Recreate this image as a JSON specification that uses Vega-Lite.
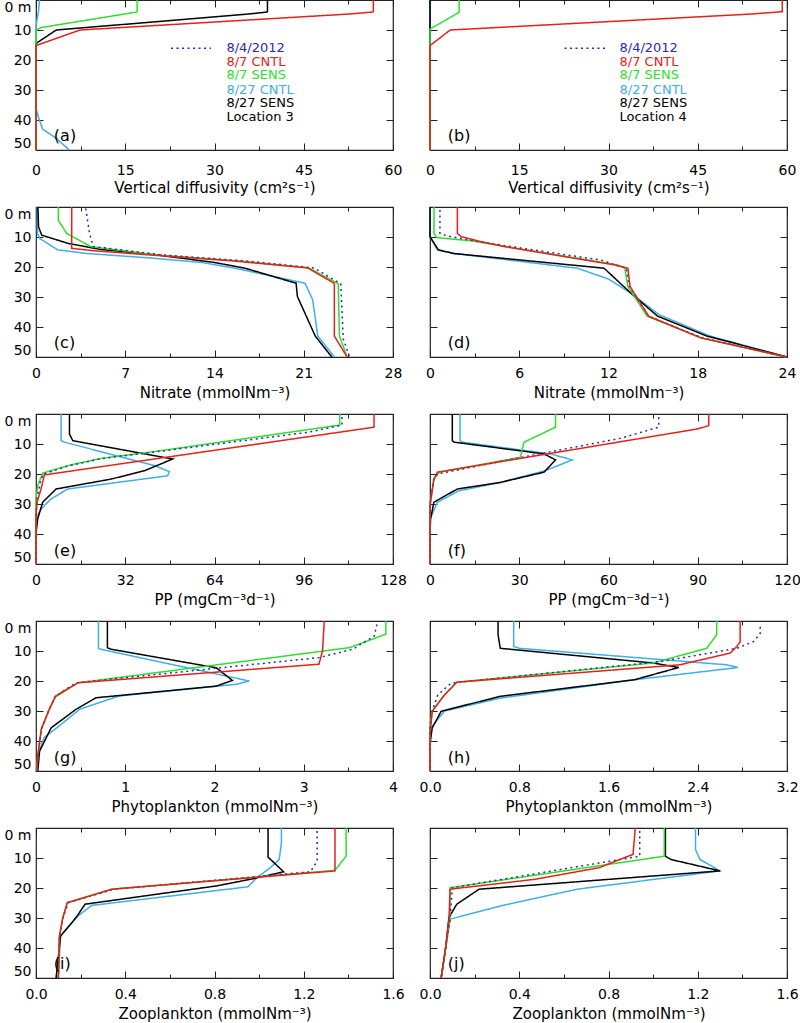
{
"$schema": "https://vega.github.io/schema/vega-lite/v6.json",
"padding": {"left": 3, "top": -4, "right": 0, "bottom": 0},
"columns": 2,
"spacing": {"row": 57, "column": 37},
"bounds": "flush",
"config": {
  "font": "DejaVu Sans",
  "view": {"stroke": "#222", "strokeWidth": 1.2},
  "axis": {"grid": false, "ticks": true, "tickSize": -7, "tickColor": "#222", "tickWidth": 1, "domain": false, "labelOverlap": false, "labelFont": "DejaVu Sans", "labelFontSize": 14, "labelColor": "#000", "titleFont": "DejaVu Sans", "titleFontSize": 15, "titleFontWeight": "normal", "titleColor": "#000", "labelPadding": 16, "titlePadding": 5},
  "axisX": {"labelFlush": false},
  "axisY": {"labelPadding": 12},
  "text": {"font": "DejaVu Sans"}
},
"datasets": {
"a": [
{"s":"8/27 CNTL","d":0,"v":0.6},{"s":"8/27 CNTL","d":4,"v":0.4},{"s":"8/27 CNTL","d":8,"v":0.05},{"s":"8/27 CNTL","d":10,"v":0},{"s":"8/27 CNTL","d":36,"v":0},{"s":"8/27 CNTL","d":39.7,"v":0.5},{"s":"8/27 CNTL","d":43,"v":1.1},{"s":"8/27 CNTL","d":46.1,"v":3.4},{"s":"8/27 CNTL","d":50,"v":5.6},
{"s":"8/27 SENS","d":0,"v":38.9},{"s":"8/27 SENS","d":4,"v":38.9},{"s":"8/27 SENS","d":4.7,"v":35.6},{"s":"8/27 SENS","d":10,"v":3.4},{"s":"8/27 SENS","d":14.5,"v":0},{"s":"8/27 SENS","d":50,"v":0},
{"s":"8/7 SENS","d":0,"v":17},{"s":"8/7 SENS","d":4,"v":17},{"s":"8/7 SENS","d":4.7,"v":14.8},{"s":"8/7 SENS","d":9.2,"v":0.8},{"s":"8/7 SENS","d":10.2,"v":0},{"s":"8/7 SENS","d":50,"v":0},
{"s":"8/7 CNTL","d":0,"v":56.7},{"s":"8/7 CNTL","d":4,"v":56.7},{"s":"8/7 CNTL","d":4.7,"v":52.4},{"s":"8/7 CNTL","d":10,"v":7.4},{"s":"8/7 CNTL","d":15.2,"v":0},{"s":"8/7 CNTL","d":50,"v":0}
],
"b": [
{"s":"8/27 CNTL","d":0,"v":0},{"s":"8/27 CNTL","d":50,"v":0},
{"s":"8/27 SENS","d":0,"v":0},{"s":"8/27 SENS","d":50,"v":0},
{"s":"8/7 SENS","d":0,"v":4.9},{"s":"8/7 SENS","d":4.1,"v":4.9},{"s":"8/7 SENS","d":9.7,"v":0},{"s":"8/7 SENS","d":50,"v":0},
{"s":"8/7 CNTL","d":0,"v":59.2},{"s":"8/7 CNTL","d":3.9,"v":59.2},{"s":"8/7 CNTL","d":4.7,"v":53.8},{"s":"8/7 CNTL","d":10,"v":3.4},{"s":"8/7 CNTL","d":15.2,"v":0},{"s":"8/7 CNTL","d":50,"v":0}
],
"c": [
{"s":"8/27 CNTL","d":0,"v":0.1},{"s":"8/27 CNTL","d":8.8,"v":0.12},{"s":"8/27 CNTL","d":10.5,"v":0.3},{"s":"8/27 CNTL","d":14.3,"v":1.7},{"s":"8/27 CNTL","d":15.5,"v":4},{"s":"8/27 CNTL","d":17,"v":9},{"s":"8/27 CNTL","d":18.5,"v":13},{"s":"8/27 CNTL","d":20.4,"v":15.6},{"s":"8/27 CNTL","d":25.4,"v":21.1},{"s":"8/27 CNTL","d":30.9,"v":21.7},{"s":"8/27 CNTL","d":43,"v":22.1},{"s":"8/27 CNTL","d":50,"v":23.4},
{"s":"8/27 SENS","d":0,"v":0.15},{"s":"8/27 SENS","d":6.6,"v":0.2},{"s":"8/27 SENS","d":9.4,"v":0.45},{"s":"8/27 SENS","d":12.1,"v":2.5},{"s":"8/27 SENS","d":14.1,"v":5},{"s":"8/27 SENS","d":16,"v":9.5},{"s":"8/27 SENS","d":18.5,"v":14},{"s":"8/27 SENS","d":20.4,"v":16.4},{"s":"8/27 SENS","d":25.4,"v":20.4},{"s":"8/27 SENS","d":29.8,"v":20.5},{"s":"8/27 SENS","d":43,"v":21.9},{"s":"8/27 SENS","d":50,"v":23.2},
{"s":"8/7 SENS","d":0,"v":1.75},{"s":"8/7 SENS","d":4.4,"v":1.75},{"s":"8/7 SENS","d":8.8,"v":2.4},{"s":"8/7 SENS","d":13.2,"v":4.3},{"s":"8/7 SENS","d":16,"v":9.5},{"s":"8/7 SENS","d":18,"v":16},{"s":"8/7 SENS","d":20.3,"v":21.4},{"s":"8/7 SENS","d":25.6,"v":23.7},{"s":"8/7 SENS","d":43,"v":23.8},{"s":"8/7 SENS","d":50,"v":24.4},
{"s":"8/4/2012","d":0.5,"v":3.9},{"s":"8/4/2012","d":8.8,"v":4.2},{"s":"8/4/2012","d":13.2,"v":4.5},{"s":"8/4/2012","d":16,"v":10},{"s":"8/4/2012","d":18,"v":16.5},{"s":"8/4/2012","d":20.3,"v":21.8},{"s":"8/4/2012","d":25.6,"v":23.9},{"s":"8/4/2012","d":44,"v":24.1},{"s":"8/4/2012","d":50,"v":24.6},
{"s":"8/7 CNTL","d":0,"v":2.8},{"s":"8/7 CNTL","d":13.8,"v":2.8},{"s":"8/7 CNTL","d":14.6,"v":4.6},{"s":"8/7 CNTL","d":16,"v":9},{"s":"8/7 CNTL","d":18,"v":15.5},{"s":"8/7 CNTL","d":20.3,"v":21.3},{"s":"8/7 CNTL","d":25.5,"v":23.4},{"s":"8/7 CNTL","d":43,"v":23.4},{"s":"8/7 CNTL","d":50,"v":24.4}
],
"d": [
{"s":"8/27 CNTL","d":0,"v":0},{"s":"8/27 CNTL","d":9.9,"v":0},{"s":"8/27 CNTL","d":14.3,"v":0.5},{"s":"8/27 CNTL","d":15.5,"v":1.6},{"s":"8/27 CNTL","d":20.4,"v":9.9},{"s":"8/27 CNTL","d":24,"v":12},{"s":"8/27 CNTL","d":28.7,"v":13.5},{"s":"8/27 CNTL","d":35.9,"v":15.4},{"s":"8/27 CNTL","d":43,"v":18.8},{"s":"8/27 CNTL","d":50,"v":24},
{"s":"8/27 SENS","d":0,"v":0},{"s":"8/27 SENS","d":9.9,"v":0},{"s":"8/27 SENS","d":14.3,"v":0.56},{"s":"8/27 SENS","d":15.5,"v":1.6},{"s":"8/27 SENS","d":20.4,"v":11.7},{"s":"8/27 SENS","d":28.7,"v":13.5},{"s":"8/27 SENS","d":36.4,"v":15.3},{"s":"8/27 SENS","d":43,"v":18.6},{"s":"8/27 SENS","d":50,"v":24},
{"s":"8/7 SENS","d":0,"v":0.27},{"s":"8/7 SENS","d":8.8,"v":0.27},{"s":"8/7 SENS","d":10.2,"v":0.45},{"s":"8/7 SENS","d":11.3,"v":2.8},{"s":"8/7 SENS","d":19.3,"v":12.6},{"s":"8/7 SENS","d":20.4,"v":13.1},{"s":"8/7 SENS","d":26.5,"v":13.3},{"s":"8/7 SENS","d":36.4,"v":14.6},{"s":"8/7 SENS","d":43.6,"v":18.2},{"s":"8/7 SENS","d":50,"v":23.9},
{"s":"8/4/2012","d":1,"v":0.67},{"s":"8/4/2012","d":8.8,"v":0.67},{"s":"8/4/2012","d":9.7,"v":1.2},{"s":"8/4/2012","d":11.5,"v":3.2},{"s":"8/4/2012","d":17.7,"v":11.5},{"s":"8/4/2012","d":19.9,"v":12.8},{"s":"8/4/2012","d":20.4,"v":13.2},{"s":"8/4/2012","d":26.5,"v":13.4},{"s":"8/4/2012","d":36.4,"v":14.7},{"s":"8/4/2012","d":43.6,"v":18.3},{"s":"8/4/2012","d":50,"v":24},
{"s":"8/7 CNTL","d":0,"v":1.84},{"s":"8/7 CNTL","d":8.8,"v":1.84},{"s":"8/7 CNTL","d":9.9,"v":2.1},{"s":"8/7 CNTL","d":11.3,"v":3.2},{"s":"8/7 CNTL","d":13.2,"v":5.0},{"s":"8/7 CNTL","d":19.3,"v":12.4},{"s":"8/7 CNTL","d":20.4,"v":13.3},{"s":"8/7 CNTL","d":26.5,"v":13.45},{"s":"8/7 CNTL","d":36.4,"v":14.7},{"s":"8/7 CNTL","d":43.6,"v":18.2},{"s":"8/7 CNTL","d":50,"v":24}
],
"e": [
{"s":"8/27 CNTL","d":0,"v":9},{"s":"8/27 CNTL","d":8.9,"v":9},{"s":"8/27 CNTL","d":9.4,"v":10.2},{"s":"8/27 CNTL","d":17.2,"v":42.5},{"s":"8/27 CNTL","d":19.2,"v":47.8},{"s":"8/27 CNTL","d":20.6,"v":47.2},{"s":"8/27 CNTL","d":25,"v":11.4},{"s":"8/27 CNTL","d":28.3,"v":5.4},{"s":"8/27 CNTL","d":31.7,"v":1.8},{"s":"8/27 CNTL","d":35,"v":0},{"s":"8/27 CNTL","d":50,"v":0},
{"s":"8/27 SENS","d":0,"v":12},{"s":"8/27 SENS","d":6.7,"v":12},{"s":"8/27 SENS","d":8.9,"v":13.2},{"s":"8/27 SENS","d":15,"v":49},{"s":"8/27 SENS","d":18.9,"v":38.9},{"s":"8/27 SENS","d":21.7,"v":26.9},{"s":"8/27 SENS","d":25,"v":7.2},{"s":"8/27 SENS","d":29.4,"v":2.4},{"s":"8/27 SENS","d":35,"v":0.6},{"s":"8/27 SENS","d":40,"v":0},{"s":"8/27 SENS","d":50,"v":0},
{"s":"8/7 SENS","d":0,"v":108.9},{"s":"8/7 SENS","d":3.7,"v":108.9},{"s":"8/7 SENS","d":12.6,"v":41.9},{"s":"8/7 SENS","d":14.8,"v":23.3},{"s":"8/7 SENS","d":17.2,"v":11.4},{"s":"8/7 SENS","d":19.7,"v":2.4},{"s":"8/7 SENS","d":23.9,"v":0.6},{"s":"8/7 SENS","d":28.3,"v":0},{"s":"8/7 SENS","d":50,"v":0},
{"s":"8/4/2012","d":1,"v":109.7},{"s":"8/4/2012","d":3.7,"v":109.7},{"s":"8/4/2012","d":6.1,"v":97.5},{"s":"8/4/2012","d":12.6,"v":43},{"s":"8/4/2012","d":14.8,"v":24},{"s":"8/4/2012","d":17.2,"v":12},{"s":"8/4/2012","d":20,"v":2.6},{"s":"8/4/2012","d":22.8,"v":1.5},{"s":"8/4/2012","d":28,"v":0.4},{"s":"8/4/2012","d":33,"v":0},{"s":"8/4/2012","d":50,"v":0},
{"s":"8/7 CNTL","d":0,"v":121.2},{"s":"8/7 CNTL","d":4.4,"v":121.2},{"s":"8/7 CNTL","d":20.3,"v":3},{"s":"8/7 CNTL","d":25,"v":1.8},{"s":"8/7 CNTL","d":29.4,"v":0.4},{"s":"8/7 CNTL","d":34,"v":0},{"s":"8/7 CNTL","d":50,"v":0}
],
"f": [
{"s":"8/27 CNTL","d":0,"v":10.1},{"s":"8/27 CNTL","d":8.9,"v":10.1},{"s":"8/27 CNTL","d":9.4,"v":10.9},{"s":"8/27 CNTL","d":13.3,"v":40.5},{"s":"8/27 CNTL","d":15.3,"v":47.8},{"s":"8/27 CNTL","d":18.9,"v":38.8},{"s":"8/27 CNTL","d":22.8,"v":23.7},{"s":"8/27 CNTL","d":25.6,"v":9.7},{"s":"8/27 CNTL","d":29.4,"v":2.5},{"s":"8/27 CNTL","d":35,"v":0},{"s":"8/27 CNTL","d":50,"v":0},
{"s":"8/27 SENS","d":0,"v":7.5},{"s":"8/27 SENS","d":8.9,"v":7.5},{"s":"8/27 SENS","d":9.4,"v":8.1},{"s":"8/27 SENS","d":13.3,"v":38.3},{"s":"8/27 SENS","d":15.3,"v":42.2},{"s":"8/27 SENS","d":19.4,"v":38.3},{"s":"8/27 SENS","d":22.8,"v":23.7},{"s":"8/27 SENS","d":25,"v":9.2},{"s":"8/27 SENS","d":29.4,"v":1.3},{"s":"8/27 SENS","d":35,"v":0.2},{"s":"8/27 SENS","d":40,"v":0},{"s":"8/27 SENS","d":50,"v":0},
{"s":"8/7 SENS","d":0,"v":42.2},{"s":"8/7 SENS","d":4.4,"v":42.2},{"s":"8/7 SENS","d":9.4,"v":31.6},{"s":"8/7 SENS","d":14.4,"v":30.4},{"s":"8/7 SENS","d":19.4,"v":3.2},{"s":"8/7 SENS","d":21.7,"v":1.3},{"s":"8/7 SENS","d":30,"v":0},{"s":"8/7 SENS","d":50,"v":0},
{"s":"8/4/2012","d":1.1,"v":76.9},{"s":"8/4/2012","d":4.4,"v":76.9},{"s":"8/4/2012","d":8.1,"v":64},{"s":"8/4/2012","d":14.4,"v":31},{"s":"8/4/2012","d":20,"v":2.5},{"s":"8/4/2012","d":22,"v":1.2},{"s":"8/4/2012","d":30,"v":0},{"s":"8/4/2012","d":50,"v":0},
{"s":"8/7 CNTL","d":0,"v":93.7},{"s":"8/7 CNTL","d":3.9,"v":93.7},{"s":"8/7 CNTL","d":5,"v":89.8},{"s":"8/7 CNTL","d":19.4,"v":2.5},{"s":"8/7 CNTL","d":21.7,"v":1.3},{"s":"8/7 CNTL","d":30.6,"v":0},{"s":"8/7 CNTL","d":50,"v":0}
],
"g": [
{"s":"8/27 CNTL","d":0,"v":0.7},{"s":"8/27 CNTL","d":9.1,"v":0.7},{"s":"8/27 CNTL","d":9.4,"v":0.72},{"s":"8/27 CNTL","d":20,"v":2.39},{"s":"8/27 CNTL","d":21.1,"v":2.24},{"s":"8/27 CNTL","d":25,"v":0.93},{"s":"8/27 CNTL","d":29.4,"v":0.49},{"s":"8/27 CNTL","d":34.5,"v":0.28},{"s":"8/27 CNTL","d":38.9,"v":0.09},{"s":"8/27 CNTL","d":44,"v":0.03},{"s":"8/27 CNTL","d":50,"v":0},
{"s":"8/27 SENS","d":0,"v":0.8},{"s":"8/27 SENS","d":8.9,"v":0.8},{"s":"8/27 SENS","d":9.4,"v":0.84},{"s":"8/27 SENS","d":15.6,"v":2.02},{"s":"8/27 SENS","d":19.8,"v":2.2},{"s":"8/27 SENS","d":21.7,"v":2.02},{"s":"8/27 SENS","d":25.6,"v":0.67},{"s":"8/27 SENS","d":29.4,"v":0.45},{"s":"8/27 SENS","d":35.6,"v":0.17},{"s":"8/27 SENS","d":43.4,"v":0.04},{"s":"8/27 SENS","d":50,"v":0.02},
{"s":"8/7 SENS","d":0,"v":3.92},{"s":"8/7 SENS","d":4.4,"v":3.92},{"s":"8/7 SENS","d":8.9,"v":3.51},{"s":"8/7 SENS","d":20.6,"v":0.47},{"s":"8/7 SENS","d":25.5,"v":0.21},{"s":"8/7 SENS","d":30,"v":0.14},{"s":"8/7 SENS","d":36,"v":0.06},{"s":"8/7 SENS","d":45,"v":0.02},{"s":"8/7 SENS","d":50,"v":0.01},
{"s":"8/4/2012","d":1.1,"v":3.82},{"s":"8/4/2012","d":5,"v":3.79},{"s":"8/4/2012","d":9.4,"v":3.55},{"s":"8/4/2012","d":12.2,"v":3.17},{"s":"8/4/2012","d":20.6,"v":0.45},{"s":"8/4/2012","d":25,"v":0.22},{"s":"8/4/2012","d":30,"v":0.14},{"s":"8/4/2012","d":36,"v":0.06},{"s":"8/4/2012","d":45,"v":0.02},{"s":"8/4/2012","d":50,"v":0.01},
{"s":"8/7 CNTL","d":0,"v":3.23},{"s":"8/7 CNTL","d":10,"v":3.21},{"s":"8/7 CNTL","d":14.4,"v":3.17},{"s":"8/7 CNTL","d":20.6,"v":0.47},{"s":"8/7 CNTL","d":25,"v":0.22},{"s":"8/7 CNTL","d":29.4,"v":0.15},{"s":"8/7 CNTL","d":36,"v":0.06},{"s":"8/7 CNTL","d":45,"v":0.02},{"s":"8/7 CNTL","d":50,"v":0.01}
],
"h": [
{"s":"8/27 CNTL","d":0,"v":0.75},{"s":"8/27 CNTL","d":8.5,"v":0.75},{"s":"8/27 CNTL","d":9.1,"v":0.8},{"s":"8/27 CNTL","d":14.6,"v":2.66},{"s":"8/27 CNTL","d":15.5,"v":2.76},{"s":"8/27 CNTL","d":19.6,"v":1.83},{"s":"8/27 CNTL","d":25.7,"v":0.63},{"s":"8/27 CNTL","d":30,"v":0.13},{"s":"8/27 CNTL","d":36,"v":0},{"s":"8/27 CNTL","d":50,"v":0},
{"s":"8/27 SENS","d":0,"v":0.61},{"s":"8/27 SENS","d":4.6,"v":0.61},{"s":"8/27 SENS","d":9.1,"v":0.63},{"s":"8/27 SENS","d":14,"v":2.0},{"s":"8/27 SENS","d":15.5,"v":2.23},{"s":"8/27 SENS","d":19.6,"v":1.83},{"s":"8/27 SENS","d":25.1,"v":0.63},{"s":"8/27 SENS","d":30.1,"v":0.1},{"s":"8/27 SENS","d":35.6,"v":0.02},{"s":"8/27 SENS","d":41,"v":0},{"s":"8/27 SENS","d":50,"v":0},
{"s":"8/7 SENS","d":0,"v":2.57},{"s":"8/7 SENS","d":4.6,"v":2.57},{"s":"8/7 SENS","d":9.1,"v":2.48},{"s":"8/7 SENS","d":14,"v":2.0},{"s":"8/7 SENS","d":20.4,"v":0.24},{"s":"8/7 SENS","d":25.1,"v":0.12},{"s":"8/7 SENS","d":30.1,"v":0.02},{"s":"8/7 SENS","d":35,"v":0},{"s":"8/7 SENS","d":50,"v":0},
{"s":"8/4/2012","d":1.9,"v":2.96},{"s":"8/4/2012","d":4.1,"v":2.96},{"s":"8/4/2012","d":6.9,"v":2.9},{"s":"8/4/2012","d":9.1,"v":2.75},{"s":"8/4/2012","d":13.5,"v":2.07},{"s":"8/4/2012","d":20.7,"v":0.19},{"s":"8/4/2012","d":24.6,"v":0.07},{"s":"8/4/2012","d":30.1,"v":0.02},{"s":"8/4/2012","d":35,"v":0},{"s":"8/4/2012","d":50,"v":0},
{"s":"8/7 CNTL","d":0,"v":2.78},{"s":"8/7 CNTL","d":6.9,"v":2.78},{"s":"8/7 CNTL","d":8.5,"v":2.75},{"s":"8/7 CNTL","d":10.7,"v":2.69},{"s":"8/7 CNTL","d":14.6,"v":2.24},{"s":"8/7 CNTL","d":20.4,"v":0.24},{"s":"8/7 CNTL","d":24.6,"v":0.13},{"s":"8/7 CNTL","d":30.1,"v":0.02},{"s":"8/7 CNTL","d":38,"v":0},{"s":"8/7 CNTL","d":50,"v":0}
],
"i": [
{"s":"8/27 CNTL","d":0,"v":1.1},{"s":"8/27 CNTL","d":5,"v":1.1},{"s":"8/27 CNTL","d":10.5,"v":1.09},{"s":"8/27 CNTL","d":13.2,"v":1.05},{"s":"8/27 CNTL","d":16.6,"v":0.99},{"s":"8/27 CNTL","d":19.6,"v":0.95},{"s":"8/27 CNTL","d":25.8,"v":0.25},{"s":"8/27 CNTL","d":29.2,"v":0.19},{"s":"8/27 CNTL","d":36,"v":0.11},{"s":"8/27 CNTL","d":50,"v":0.1},
{"s":"8/27 SENS","d":0,"v":1.04},{"s":"8/27 SENS","d":9.7,"v":1.04},{"s":"8/27 SENS","d":14.6,"v":1.11},{"s":"8/27 SENS","d":17.1,"v":0.96},{"s":"8/27 SENS","d":19.3,"v":0.81},{"s":"8/27 SENS","d":25.4,"v":0.22},{"s":"8/27 SENS","d":29.8,"v":0.18},{"s":"8/27 SENS","d":36,"v":0.11},{"s":"8/27 SENS","d":50,"v":0.09},
{"s":"8/7 SENS","d":0,"v":1.39},{"s":"8/7 SENS","d":9.4,"v":1.39},{"s":"8/7 SENS","d":14.1,"v":1.34},{"s":"8/7 SENS","d":20.4,"v":0.34},{"s":"8/7 SENS","d":24.9,"v":0.14},{"s":"8/7 SENS","d":30,"v":0.12},{"s":"8/7 SENS","d":36,"v":0.105},{"s":"8/7 SENS","d":50,"v":0.1},
{"s":"8/4/2012","d":1,"v":1.26},{"s":"8/4/2012","d":11,"v":1.26},{"s":"8/4/2012","d":14.6,"v":1.23},{"s":"8/4/2012","d":20.4,"v":0.35},{"s":"8/4/2012","d":24.9,"v":0.145},{"s":"8/4/2012","d":30,"v":0.12},{"s":"8/4/2012","d":36,"v":0.105},{"s":"8/4/2012","d":50,"v":0.1},
{"s":"8/7 CNTL","d":0,"v":1.34},{"s":"8/7 CNTL","d":14.3,"v":1.34},{"s":"8/7 CNTL","d":20.4,"v":0.34},{"s":"8/7 CNTL","d":24.9,"v":0.14},{"s":"8/7 CNTL","d":30,"v":0.12},{"s":"8/7 CNTL","d":36,"v":0.105},{"s":"8/7 CNTL","d":50,"v":0.1}
],
"j": [
{"s":"8/27 CNTL","d":0,"v":1.19},{"s":"8/27 CNTL","d":7.2,"v":1.19},{"s":"8/27 CNTL","d":10.5,"v":1.21},{"s":"8/27 CNTL","d":14.3,"v":1.3},{"s":"8/27 CNTL","d":20.4,"v":0.66},{"s":"8/27 CNTL","d":25.9,"v":0.32},{"s":"8/27 CNTL","d":30.4,"v":0.09},{"s":"8/27 CNTL","d":40,"v":0.07},{"s":"8/27 CNTL","d":50,"v":0.05},
{"s":"8/27 SENS","d":0,"v":1.055},{"s":"8/27 SENS","d":9.4,"v":1.055},{"s":"8/27 SENS","d":10.5,"v":1.08},{"s":"8/27 SENS","d":14.3,"v":1.3},{"s":"8/27 SENS","d":20.4,"v":0.22},{"s":"8/27 SENS","d":25.4,"v":0.12},{"s":"8/27 SENS","d":29.8,"v":0.085},{"s":"8/27 SENS","d":40,"v":0.07},{"s":"8/27 SENS","d":50,"v":0.05},
{"s":"8/7 SENS","d":0,"v":1.05},{"s":"8/7 SENS","d":9.4,"v":1.05},{"s":"8/7 SENS","d":19.9,"v":0.09},{"s":"8/7 SENS","d":30.4,"v":0.09},{"s":"8/7 SENS","d":40,"v":0.07},{"s":"8/7 SENS","d":50,"v":0.05},
{"s":"8/4/2012","d":1,"v":0.94},{"s":"8/4/2012","d":9.4,"v":0.94},{"s":"8/4/2012","d":19.9,"v":0.1},{"s":"8/4/2012","d":30.4,"v":0.09},{"s":"8/4/2012","d":40,"v":0.07},{"s":"8/4/2012","d":50,"v":0.05},
{"s":"8/7 CNTL","d":0,"v":0.92},{"s":"8/7 CNTL","d":8.8,"v":0.91},{"s":"8/7 CNTL","d":10.5,"v":0.85},{"s":"8/7 CNTL","d":13.2,"v":0.76},{"s":"8/7 CNTL","d":17.1,"v":0.47},{"s":"8/7 CNTL","d":20.4,"v":0.09},{"s":"8/7 CNTL","d":30.4,"v":0.085},{"s":"8/7 CNTL","d":40,"v":0.07},{"s":"8/7 CNTL","d":50,"v":0.05}
]
},
"concat": [
{"width":357,"height":150,"data":{"name":"a"},"resolve":{"axis":{"x":"independent","y":"independent"}},
 "layer":[
  {"layer":[
   {"mark":{"type":"line","strokeWidth":1.5},"encoding":{
     "x":{"field":"v","type":"quantitative","scale":{"domain":[0,60],"nice":false,"zero":false},"axis":{"orient":"bottom","values":[0,15,30,45,60],"title":"Vertical diffusivity (cm²s⁻¹)","labelPadding":20,"titlePadding":3}},
     "y":{"field":"d","type":"quantitative","scale":{"domain":[0,50],"reverse":true,"nice":false,"zero":false},"axis":{"orient":"left","values":[10,20,30,40],"title":null}},
     "color":{"field":"s","type":"nominal","scale":{"domain":["8/4/2012","8/7 CNTL","8/7 SENS","8/27 CNTL","8/27 SENS"],"range":["#2a2ab8","#e8201a","#2ee02e","#40aee8","#000000"]},"legend":null},
     "strokeDash":{"field":"s","type":"nominal","scale":{"domain":["8/4/2012","8/7 CNTL","8/7 SENS","8/27 CNTL","8/27 SENS"],"range":[[2,3.5],[1,0],[1,0],[1,0],[1,0]]},"legend":null},
     "order":{"field":"d","type":"quantitative"}}},
   {"data":{"values":[{}]},"mark":{"type":"rule","strokeDash":[2,3.5],"strokeWidth":1.5,"color":"#2a2ab8"},"encoding":{"x":{"datum":22.7},"x2":{"datum":29.4},"y":{"datum":16.1}}},
   {"data":{"values":[{}]},"mark":{"type":"text","text":"8/4/2012","align":"left","baseline":"middle","fontSize":13,"color":"#2a2ab8"},"encoding":{"x":{"datum":32},"y":{"datum":16.1}}},
   {"data":{"values":[{}]},"mark":{"type":"text","text":"8/7 CNTL","align":"left","baseline":"middle","fontSize":13,"color":"#e8201a"},"encoding":{"x":{"datum":32},"y":{"datum":20.5}}},
   {"data":{"values":[{}]},"mark":{"type":"text","text":"8/7 SENS","align":"left","baseline":"middle","fontSize":13,"color":"#2ee02e"},"encoding":{"x":{"datum":32},"y":{"datum":25.0}}},
   {"data":{"values":[{}]},"mark":{"type":"text","text":"8/27 CNTL","align":"left","baseline":"middle","fontSize":13,"color":"#40aee8"},"encoding":{"x":{"datum":32},"y":{"datum":29.9}}},
   {"data":{"values":[{}]},"mark":{"type":"text","text":"8/27 SENS","align":"left","baseline":"middle","fontSize":13,"color":"#000000"},"encoding":{"x":{"datum":32},"y":{"datum":34.4}}},
   {"data":{"values":[{}]},"mark":{"type":"text","text":"Location 3","align":"left","baseline":"middle","fontSize":13,"color":"#000000"},"encoding":{"x":{"datum":32},"y":{"datum":39.1}}},
   {"data":{"values":[{}]},"mark":{"type":"text","text":"(a)","align":"left","baseline":"middle","fontSize":16,"color":"#000000"},"encoding":{"x":{"datum":3},"y":{"datum":45.2}}}
  ]},
  {"mark":{"type":"line","opacity":0},"encoding":{
    "x":{"field":"v","type":"quantitative","axis":{"orient":"bottom","values":[7.5,22.5,37.5,52.5],"labels":false,"title":null,"tickSize":-4}},
    "y":{"field":"d","type":"quantitative","axis":{"orient":"left","values":[0,50],"labelExpr":"datum.value == 0 ? '0 m' : datum.label","labelFlush":true,"ticks":false,"labelPadding":5,"title":null}}}},
  {"mark":{"type":"line","opacity":0},"encoding":{
    "x":{"field":"v","type":"quantitative","axis":{"orient":"top","values":[0,15,30,45,60],"labels":false,"title":null}},
    "y":{"field":"d","type":"quantitative","axis":{"orient":"right","values":[10,20,30,40],"labels":false,"title":null}}}},
  {"mark":{"type":"line","opacity":0},"encoding":{
    "x":{"field":"v","type":"quantitative","axis":{"orient":"top","values":[7.5,22.5,37.5,52.5],"labels":false,"title":null,"tickSize":-4}},
    "y":{"field":"d","type":"quantitative","axis":null}}}
 ]},
{"width":357,"height":150,"data":{"name":"b"},"resolve":{"axis":{"x":"independent","y":"independent"}},
 "layer":[
  {"layer":[
   {"mark":{"type":"line","strokeWidth":1.5},"encoding":{
     "x":{"field":"v","type":"quantitative","scale":{"domain":[0,60],"nice":false,"zero":false},"axis":{"orient":"bottom","values":[0,15,30,45,60],"title":"Vertical diffusivity (cm²s⁻¹)","labelPadding":20,"titlePadding":3}},
     "y":{"field":"d","type":"quantitative","scale":{"domain":[0,50],"reverse":true,"nice":false,"zero":false},"axis":{"orient":"left","values":[10,20,30,40],"labels":false,"title":null}},
     "color":{"field":"s","type":"nominal","scale":{"domain":["8/4/2012","8/7 CNTL","8/7 SENS","8/27 CNTL","8/27 SENS"],"range":["#2a2ab8","#e8201a","#2ee02e","#40aee8","#000000"]},"legend":null},
     "strokeDash":{"field":"s","type":"nominal","scale":{"domain":["8/4/2012","8/7 CNTL","8/7 SENS","8/27 CNTL","8/27 SENS"],"range":[[2,3.5],[1,0],[1,0],[1,0],[1,0]]},"legend":null},
     "order":{"field":"d","type":"quantitative"}}},
   {"data":{"values":[{}]},"mark":{"type":"rule","strokeDash":[2,3.5],"strokeWidth":1.5,"color":"#2a2ab8"},"encoding":{"x":{"datum":22.6},"x2":{"datum":29.5},"y":{"datum":16.1}}},
   {"data":{"values":[{}]},"mark":{"type":"text","text":"8/4/2012","align":"left","baseline":"middle","fontSize":13,"color":"#2a2ab8"},"encoding":{"x":{"datum":31.85},"y":{"datum":16.1}}},
   {"data":{"values":[{}]},"mark":{"type":"text","text":"8/7 CNTL","align":"left","baseline":"middle","fontSize":13,"color":"#e8201a"},"encoding":{"x":{"datum":31.85},"y":{"datum":20.5}}},
   {"data":{"values":[{}]},"mark":{"type":"text","text":"8/7 SENS","align":"left","baseline":"middle","fontSize":13,"color":"#2ee02e"},"encoding":{"x":{"datum":31.85},"y":{"datum":25.0}}},
   {"data":{"values":[{}]},"mark":{"type":"text","text":"8/27 CNTL","align":"left","baseline":"middle","fontSize":13,"color":"#40aee8"},"encoding":{"x":{"datum":31.85},"y":{"datum":29.9}}},
   {"data":{"values":[{}]},"mark":{"type":"text","text":"8/27 SENS","align":"left","baseline":"middle","fontSize":13,"color":"#000000"},"encoding":{"x":{"datum":31.85},"y":{"datum":34.4}}},
   {"data":{"values":[{}]},"mark":{"type":"text","text":"Location 4","align":"left","baseline":"middle","fontSize":13,"color":"#000000"},"encoding":{"x":{"datum":31.85},"y":{"datum":39.1}}},
   {"data":{"values":[{}]},"mark":{"type":"text","text":"(b)","align":"left","baseline":"middle","fontSize":16,"color":"#000000"},"encoding":{"x":{"datum":3},"y":{"datum":45.2}}}
  ]},
  {"mark":{"type":"line","opacity":0},"encoding":{
    "x":{"field":"v","type":"quantitative","axis":{"orient":"bottom","values":[7.5,22.5,37.5,52.5],"labels":false,"title":null,"tickSize":-4}},
    "y":{"field":"d","type":"quantitative","axis":null}}},
  {"mark":{"type":"line","opacity":0},"encoding":{
    "x":{"field":"v","type":"quantitative","axis":{"orient":"top","values":[0,15,30,45,60],"labels":false,"title":null}},
    "y":{"field":"d","type":"quantitative","axis":{"orient":"right","values":[10,20,30,40],"labels":false,"title":null}}}},
  {"mark":{"type":"line","opacity":0},"encoding":{
    "x":{"field":"v","type":"quantitative","axis":{"orient":"top","values":[7.5,22.5,37.5,52.5],"labels":false,"title":null,"tickSize":-4}},
    "y":{"field":"d","type":"quantitative","axis":null}}}
 ]},
{"width":357,"height":150,"data":{"name":"c"},"resolve":{"axis":{"x":"independent","y":"independent"}},
 "layer":[
  {"layer":[
   {"mark":{"type":"line","strokeWidth":1.5},"encoding":{
     "x":{"field":"v","type":"quantitative","scale":{"domain":[0,28],"nice":false,"zero":false},"axis":{"orient":"bottom","values":[0,7,14,21,28],"title":"Nitrate (mmolNm⁻³)"}},
     "y":{"field":"d","type":"quantitative","scale":{"domain":[0,50],"reverse":true,"nice":false,"zero":false},"axis":{"orient":"left","values":[10,20,30,40],"title":null}},
     "color":{"field":"s","type":"nominal","scale":{"domain":["8/4/2012","8/7 CNTL","8/7 SENS","8/27 CNTL","8/27 SENS"],"range":["#2a2ab8","#e8201a","#2ee02e","#40aee8","#000000"]},"legend":null},
     "strokeDash":{"field":"s","type":"nominal","scale":{"domain":["8/4/2012","8/7 CNTL","8/7 SENS","8/27 CNTL","8/27 SENS"],"range":[[2,3.5],[1,0],[1,0],[1,0],[1,0]]},"legend":null},
     "order":{"field":"d","type":"quantitative"}}},
   {"data":{"values":[{}]},"mark":{"type":"text","text":"(c)","align":"left","baseline":"middle","fontSize":16,"color":"#000000"},"encoding":{"x":{"datum":1.4},"y":{"datum":45.4}}}
  ]},
  {"mark":{"type":"line","opacity":0},"encoding":{
    "x":{"field":"v","type":"quantitative","axis":{"orient":"bottom","values":[3.5,10.5,17.5,24.5],"labels":false,"title":null,"tickSize":-4}},
    "y":{"field":"d","type":"quantitative","axis":{"orient":"left","values":[0,50],"labelExpr":"datum.value == 0 ? '0 m' : datum.label","labelFlush":true,"ticks":false,"labelPadding":5,"title":null}}}},
  {"mark":{"type":"line","opacity":0},"encoding":{
    "x":{"field":"v","type":"quantitative","axis":{"orient":"top","values":[0,7,14,21,28],"labels":false,"title":null}},
    "y":{"field":"d","type":"quantitative","axis":{"orient":"right","values":[10,20,30,40],"labels":false,"title":null}}}},
  {"mark":{"type":"line","opacity":0},"encoding":{
    "x":{"field":"v","type":"quantitative","axis":{"orient":"top","values":[3.5,10.5,17.5,24.5],"labels":false,"title":null,"tickSize":-4}},
    "y":{"field":"d","type":"quantitative","axis":null}}}
 ]},
{"width":357,"height":150,"data":{"name":"d"},"resolve":{"axis":{"x":"independent","y":"independent"}},
 "layer":[
  {"layer":[
   {"mark":{"type":"line","strokeWidth":1.5},"encoding":{
     "x":{"field":"v","type":"quantitative","scale":{"domain":[0,24],"nice":false,"zero":false},"axis":{"orient":"bottom","values":[0,6,12,18,24],"title":"Nitrate (mmolNm⁻³)"}},
     "y":{"field":"d","type":"quantitative","scale":{"domain":[0,50],"reverse":true,"nice":false,"zero":false},"axis":{"orient":"left","values":[10,20,30,40],"labels":false,"title":null}},
     "color":{"field":"s","type":"nominal","scale":{"domain":["8/4/2012","8/7 CNTL","8/7 SENS","8/27 CNTL","8/27 SENS"],"range":["#2a2ab8","#e8201a","#2ee02e","#40aee8","#000000"]},"legend":null},
     "strokeDash":{"field":"s","type":"nominal","scale":{"domain":["8/4/2012","8/7 CNTL","8/7 SENS","8/27 CNTL","8/27 SENS"],"range":[[2,3.5],[1,0],[1,0],[1,0],[1,0]]},"legend":null},
     "order":{"field":"d","type":"quantitative"}}},
   {"data":{"values":[{}]},"mark":{"type":"text","text":"(d)","align":"left","baseline":"middle","fontSize":16,"color":"#000000"},"encoding":{"x":{"datum":1.2},"y":{"datum":45.4}}}
  ]},
  {"mark":{"type":"line","opacity":0},"encoding":{
    "x":{"field":"v","type":"quantitative","axis":{"orient":"bottom","values":[3,9,15,21],"labels":false,"title":null,"tickSize":-4}},
    "y":{"field":"d","type":"quantitative","axis":null}}},
  {"mark":{"type":"line","opacity":0},"encoding":{
    "x":{"field":"v","type":"quantitative","axis":{"orient":"top","values":[0,6,12,18,24],"labels":false,"title":null}},
    "y":{"field":"d","type":"quantitative","axis":{"orient":"right","values":[10,20,30,40],"labels":false,"title":null}}}},
  {"mark":{"type":"line","opacity":0},"encoding":{
    "x":{"field":"v","type":"quantitative","axis":{"orient":"top","values":[3,9,15,21],"labels":false,"title":null,"tickSize":-4}},
    "y":{"field":"d","type":"quantitative","axis":null}}}
 ]},
{"width":357,"height":150,"data":{"name":"e"},"resolve":{"axis":{"x":"independent","y":"independent"}},
 "layer":[
  {"layer":[
   {"mark":{"type":"line","strokeWidth":1.5},"encoding":{
     "x":{"field":"v","type":"quantitative","scale":{"domain":[0,128],"nice":false,"zero":false},"axis":{"orient":"bottom","values":[0,32,64,96,128],"title":"PP (mgCm⁻³d⁻¹)"}},
     "y":{"field":"d","type":"quantitative","scale":{"domain":[0,50],"reverse":true,"nice":false,"zero":false},"axis":{"orient":"left","values":[10,20,30,40],"title":null}},
     "color":{"field":"s","type":"nominal","scale":{"domain":["8/4/2012","8/7 CNTL","8/7 SENS","8/27 CNTL","8/27 SENS"],"range":["#2a2ab8","#e8201a","#2ee02e","#40aee8","#000000"]},"legend":null},
     "strokeDash":{"field":"s","type":"nominal","scale":{"domain":["8/4/2012","8/7 CNTL","8/7 SENS","8/27 CNTL","8/27 SENS"],"range":[[2,3.5],[1,0],[1,0],[1,0],[1,0]]},"legend":null},
     "order":{"field":"d","type":"quantitative"}}},
   {"data":{"values":[{}]},"mark":{"type":"text","text":"(e)","align":"left","baseline":"middle","fontSize":16,"color":"#000000"},"encoding":{"x":{"datum":6.4},"y":{"datum":45.5}}}
  ]},
  {"mark":{"type":"line","opacity":0},"encoding":{
    "x":{"field":"v","type":"quantitative","axis":{"orient":"bottom","values":[16,48,80,112],"labels":false,"title":null,"tickSize":-4}},
    "y":{"field":"d","type":"quantitative","axis":{"orient":"left","values":[0,50],"labelExpr":"datum.value == 0 ? '0 m' : datum.label","labelFlush":true,"ticks":false,"labelPadding":5,"title":null}}}},
  {"mark":{"type":"line","opacity":0},"encoding":{
    "x":{"field":"v","type":"quantitative","axis":{"orient":"top","values":[0,32,64,96,128],"labels":false,"title":null}},
    "y":{"field":"d","type":"quantitative","axis":{"orient":"right","values":[10,20,30,40],"labels":false,"title":null}}}},
  {"mark":{"type":"line","opacity":0},"encoding":{
    "x":{"field":"v","type":"quantitative","axis":{"orient":"top","values":[16,48,80,112],"labels":false,"title":null,"tickSize":-4}},
    "y":{"field":"d","type":"quantitative","axis":null}}}
 ]},
{"width":357,"height":150,"data":{"name":"f"},"resolve":{"axis":{"x":"independent","y":"independent"}},
 "layer":[
  {"layer":[
   {"mark":{"type":"line","strokeWidth":1.5},"encoding":{
     "x":{"field":"v","type":"quantitative","scale":{"domain":[0,120],"nice":false,"zero":false},"axis":{"orient":"bottom","values":[0,30,60,90,120],"title":"PP (mgCm⁻³d⁻¹)"}},
     "y":{"field":"d","type":"quantitative","scale":{"domain":[0,50],"reverse":true,"nice":false,"zero":false},"axis":{"orient":"left","values":[10,20,30,40],"labels":false,"title":null}},
     "color":{"field":"s","type":"nominal","scale":{"domain":["8/4/2012","8/7 CNTL","8/7 SENS","8/27 CNTL","8/27 SENS"],"range":["#2a2ab8","#e8201a","#2ee02e","#40aee8","#000000"]},"legend":null},
     "strokeDash":{"field":"s","type":"nominal","scale":{"domain":["8/4/2012","8/7 CNTL","8/7 SENS","8/27 CNTL","8/27 SENS"],"range":[[2,3.5],[1,0],[1,0],[1,0],[1,0]]},"legend":null},
     "order":{"field":"d","type":"quantitative"}}},
   {"data":{"values":[{}]},"mark":{"type":"text","text":"(f)","align":"left","baseline":"middle","fontSize":16,"color":"#000000"},"encoding":{"x":{"datum":6},"y":{"datum":45.5}}}
  ]},
  {"mark":{"type":"line","opacity":0},"encoding":{
    "x":{"field":"v","type":"quantitative","axis":{"orient":"bottom","values":[15,45,75,105],"labels":false,"title":null,"tickSize":-4}},
    "y":{"field":"d","type":"quantitative","axis":null}}},
  {"mark":{"type":"line","opacity":0},"encoding":{
    "x":{"field":"v","type":"quantitative","axis":{"orient":"top","values":[0,30,60,90,120],"labels":false,"title":null}},
    "y":{"field":"d","type":"quantitative","axis":{"orient":"right","values":[10,20,30,40],"labels":false,"title":null}}}},
  {"mark":{"type":"line","opacity":0},"encoding":{
    "x":{"field":"v","type":"quantitative","axis":{"orient":"top","values":[15,45,75,105],"labels":false,"title":null,"tickSize":-4}},
    "y":{"field":"d","type":"quantitative","axis":null}}}
 ]},
{"width":357,"height":150,"data":{"name":"g"},"resolve":{"axis":{"x":"independent","y":"independent"}},
 "layer":[
  {"layer":[
   {"mark":{"type":"line","strokeWidth":1.5},"encoding":{
     "x":{"field":"v","type":"quantitative","scale":{"domain":[0,4],"nice":false,"zero":false},"axis":{"orient":"bottom","values":[0,1,2,3,4],"format":"d","title":"Phytoplankton (mmolNm⁻³)"}},
     "y":{"field":"d","type":"quantitative","scale":{"domain":[0,50],"reverse":true,"nice":false,"zero":false},"axis":{"orient":"left","values":[10,20,30,40],"title":null}},
     "color":{"field":"s","type":"nominal","scale":{"domain":["8/4/2012","8/7 CNTL","8/7 SENS","8/27 CNTL","8/27 SENS"],"range":["#2a2ab8","#e8201a","#2ee02e","#40aee8","#000000"]},"legend":null},
     "strokeDash":{"field":"s","type":"nominal","scale":{"domain":["8/4/2012","8/7 CNTL","8/7 SENS","8/27 CNTL","8/27 SENS"],"range":[[2,3.5],[1,0],[1,0],[1,0],[1,0]]},"legend":null},
     "order":{"field":"d","type":"quantitative"}}},
   {"data":{"values":[{}]},"mark":{"type":"text","text":"(g)","align":"left","baseline":"middle","fontSize":16,"color":"#000000"},"encoding":{"x":{"datum":0.2},"y":{"datum":45.5}}}
  ]},
  {"mark":{"type":"line","opacity":0},"encoding":{
    "x":{"field":"v","type":"quantitative","axis":{"orient":"bottom","values":[0.5,1.5,2.5,3.5],"labels":false,"title":null,"tickSize":-4}},
    "y":{"field":"d","type":"quantitative","axis":{"orient":"left","values":[0,50],"labelExpr":"datum.value == 0 ? '0 m' : datum.label","labelFlush":true,"ticks":false,"labelPadding":5,"title":null}}}},
  {"mark":{"type":"line","opacity":0},"encoding":{
    "x":{"field":"v","type":"quantitative","axis":{"orient":"top","values":[0,1,2,3,4],"labels":false,"title":null}},
    "y":{"field":"d","type":"quantitative","axis":{"orient":"right","values":[10,20,30,40],"labels":false,"title":null}}}},
  {"mark":{"type":"line","opacity":0},"encoding":{
    "x":{"field":"v","type":"quantitative","axis":{"orient":"top","values":[0.5,1.5,2.5,3.5],"labels":false,"title":null,"tickSize":-4}},
    "y":{"field":"d","type":"quantitative","axis":null}}}
 ]},
{"width":357,"height":150,"data":{"name":"h"},"resolve":{"axis":{"x":"independent","y":"independent"}},
 "layer":[
  {"layer":[
   {"mark":{"type":"line","strokeWidth":1.5},"encoding":{
     "x":{"field":"v","type":"quantitative","scale":{"domain":[0,3.2],"nice":false,"zero":false},"axis":{"orient":"bottom","values":[0,0.8,1.6,2.4,3.2],"format":".1f","title":"Phytoplankton (mmolNm⁻³)"}},
     "y":{"field":"d","type":"quantitative","scale":{"domain":[0,50],"reverse":true,"nice":false,"zero":false},"axis":{"orient":"left","values":[10,20,30,40],"labels":false,"title":null}},
     "color":{"field":"s","type":"nominal","scale":{"domain":["8/4/2012","8/7 CNTL","8/7 SENS","8/27 CNTL","8/27 SENS"],"range":["#2a2ab8","#e8201a","#2ee02e","#40aee8","#000000"]},"legend":null},
     "strokeDash":{"field":"s","type":"nominal","scale":{"domain":["8/4/2012","8/7 CNTL","8/7 SENS","8/27 CNTL","8/27 SENS"],"range":[[2,3.5],[1,0],[1,0],[1,0],[1,0]]},"legend":null},
     "order":{"field":"d","type":"quantitative"}}},
   {"data":{"values":[{}]},"mark":{"type":"text","text":"(h)","align":"left","baseline":"middle","fontSize":16,"color":"#000000"},"encoding":{"x":{"datum":0.16},"y":{"datum":45.5}}}
  ]},
  {"mark":{"type":"line","opacity":0},"encoding":{
    "x":{"field":"v","type":"quantitative","axis":{"orient":"bottom","values":[0.4,1.2,2.0,2.8],"labels":false,"title":null,"tickSize":-4}},
    "y":{"field":"d","type":"quantitative","axis":null}}},
  {"mark":{"type":"line","opacity":0},"encoding":{
    "x":{"field":"v","type":"quantitative","axis":{"orient":"top","values":[0,0.8,1.6,2.4,3.2],"labels":false,"title":null}},
    "y":{"field":"d","type":"quantitative","axis":{"orient":"right","values":[10,20,30,40],"labels":false,"title":null}}}},
  {"mark":{"type":"line","opacity":0},"encoding":{
    "x":{"field":"v","type":"quantitative","axis":{"orient":"top","values":[0.4,1.2,2.0,2.8],"labels":false,"title":null,"tickSize":-4}},
    "y":{"field":"d","type":"quantitative","axis":null}}}
 ]},
{"width":357,"height":150,"data":{"name":"i"},"resolve":{"axis":{"x":"independent","y":"independent"}},
 "layer":[
  {"layer":[
   {"mark":{"type":"line","strokeWidth":1.5},"encoding":{
     "x":{"field":"v","type":"quantitative","scale":{"domain":[0,1.6],"nice":false,"zero":false},"axis":{"orient":"bottom","values":[0,0.4,0.8,1.2,1.6],"format":".1f","title":"Zooplankton (mmolNm⁻³)"}},
     "y":{"field":"d","type":"quantitative","scale":{"domain":[0,50],"reverse":true,"nice":false,"zero":false},"axis":{"orient":"left","values":[10,20,30,40],"title":null}},
     "color":{"field":"s","type":"nominal","scale":{"domain":["8/4/2012","8/7 CNTL","8/7 SENS","8/27 CNTL","8/27 SENS"],"range":["#2a2ab8","#e8201a","#2ee02e","#40aee8","#000000"]},"legend":null},
     "strokeDash":{"field":"s","type":"nominal","scale":{"domain":["8/4/2012","8/7 CNTL","8/7 SENS","8/27 CNTL","8/27 SENS"],"range":[[2,3.5],[1,0],[1,0],[1,0],[1,0]]},"legend":null},
     "order":{"field":"d","type":"quantitative"}}},
   {"data":{"values":[{}]},"mark":{"type":"text","text":"(i)","align":"left","baseline":"middle","fontSize":16,"color":"#000000"},"encoding":{"x":{"datum":0.08},"y":{"datum":45.2}}}
  ]},
  {"mark":{"type":"line","opacity":0},"encoding":{
    "x":{"field":"v","type":"quantitative","axis":{"orient":"bottom","values":[0.2,0.6,1.0,1.4],"labels":false,"title":null,"tickSize":-4}},
    "y":{"field":"d","type":"quantitative","axis":{"orient":"left","values":[0,50],"labelExpr":"datum.value == 0 ? '0 m' : datum.label","labelFlush":true,"ticks":false,"labelPadding":5,"title":null}}}},
  {"mark":{"type":"line","opacity":0},"encoding":{
    "x":{"field":"v","type":"quantitative","axis":{"orient":"top","values":[0,0.4,0.8,1.2,1.6],"labels":false,"title":null}},
    "y":{"field":"d","type":"quantitative","axis":{"orient":"right","values":[10,20,30,40],"labels":false,"title":null}}}},
  {"mark":{"type":"line","opacity":0},"encoding":{
    "x":{"field":"v","type":"quantitative","axis":{"orient":"top","values":[0.2,0.6,1.0,1.4],"labels":false,"title":null,"tickSize":-4}},
    "y":{"field":"d","type":"quantitative","axis":null}}}
 ]},
{"width":357,"height":150,"data":{"name":"j"},"resolve":{"axis":{"x":"independent","y":"independent"}},
 "layer":[
  {"layer":[
   {"mark":{"type":"line","strokeWidth":1.5},"encoding":{
     "x":{"field":"v","type":"quantitative","scale":{"domain":[0,1.6],"nice":false,"zero":false},"axis":{"orient":"bottom","values":[0,0.4,0.8,1.2,1.6],"format":".1f","title":"Zooplankton (mmolNm⁻³)"}},
     "y":{"field":"d","type":"quantitative","scale":{"domain":[0,50],"reverse":true,"nice":false,"zero":false},"axis":{"orient":"left","values":[10,20,30,40],"labels":false,"title":null}},
     "color":{"field":"s","type":"nominal","scale":{"domain":["8/4/2012","8/7 CNTL","8/7 SENS","8/27 CNTL","8/27 SENS"],"range":["#2a2ab8","#e8201a","#2ee02e","#40aee8","#000000"]},"legend":null},
     "strokeDash":{"field":"s","type":"nominal","scale":{"domain":["8/4/2012","8/7 CNTL","8/7 SENS","8/27 CNTL","8/27 SENS"],"range":[[2,3.5],[1,0],[1,0],[1,0],[1,0]]},"legend":null},
     "order":{"field":"d","type":"quantitative"}}},
   {"data":{"values":[{}]},"mark":{"type":"text","text":"(j)","align":"left","baseline":"middle","fontSize":16,"color":"#000000"},"encoding":{"x":{"datum":0.08},"y":{"datum":45.2}}}
  ]},
  {"mark":{"type":"line","opacity":0},"encoding":{
    "x":{"field":"v","type":"quantitative","axis":{"orient":"bottom","values":[0.2,0.6,1.0,1.4],"labels":false,"title":null,"tickSize":-4}},
    "y":{"field":"d","type":"quantitative","axis":null}}},
  {"mark":{"type":"line","opacity":0},"encoding":{
    "x":{"field":"v","type":"quantitative","axis":{"orient":"top","values":[0,0.4,0.8,1.2,1.6],"labels":false,"title":null}},
    "y":{"field":"d","type":"quantitative","axis":{"orient":"right","values":[10,20,30,40],"labels":false,"title":null}}}},
  {"mark":{"type":"line","opacity":0},"encoding":{
    "x":{"field":"v","type":"quantitative","axis":{"orient":"top","values":[0.2,0.6,1.0,1.4],"labels":false,"title":null,"tickSize":-4}},
    "y":{"field":"d","type":"quantitative","axis":null}}}
 ]}
]
}
